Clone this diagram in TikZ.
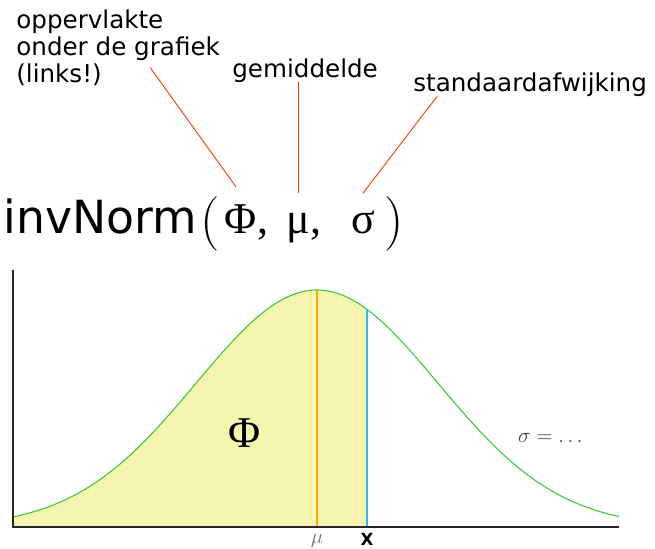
\documentclass[tikz,border=0pt]{standalone}
\usepackage{fontspec}
\setsansfont{DejaVu Sans}
\newfontfamily\greekfont{Liberation Serif}
\usetikzlibrary{positioning,calc}

\definecolor{curvegreen}{HTML}{33CC33}
\definecolor{areafill}{HTML}{F5F5B0}
\definecolor{meanorange}{HTML}{FFAA00}
\definecolor{xblue}{HTML}{33BBEE}
\definecolor{pointred}{HTML}{FF3300}

\begin{document}
\begin{tikzpicture}[
    x=0.02cm, y=-0.02cm,
    caption/.style={font=\sffamily\fontsize{14}{16}\selectfont, inner sep=0pt, anchor=base west},
    formula/.style={font=\greekfont\fontsize{25}{30}\selectfont, inner sep=0pt, anchor=base},
    bracket/.style={font=\rmfamily\fontsize{31}{34}\selectfont, inner sep=0pt, anchor=base west},
    pointer/.style={draw=pointred, line width=0.5pt},
    curve/.style={draw=curvegreen, line width=0.6pt},
    axis/.style={draw=black!85, line width=0.6pt}
]
\useasboundingbox (0,0) rectangle (655,548);

% Labels
\node[caption] (opp1) at (16,28) {oppervlakte};
\node[caption] (opp2) at (16,55) {onder de grafiek};
\node[caption] (opp3) at (16,82) {(links!)};
\node[caption] (gem) at (232,77) {gemiddelde};
\node[caption] (std) at (413,91) {standaardafwijking};

% Formula
\node[font=\sffamily\fontsize{26}{30}\selectfont, inner sep=0pt, anchor=base west] (fn) at (3,233) {invNorm};
\node[bracket] (lpar) at (200,237) {(};
\node[formula] (phi) at (241,233) {Φ};
\node[formula, anchor=base west] (comma1) at (phi.base east) {,};
\node[formula] (mu) at (298,233) {μ};
\node[formula, anchor=base west] (comma2) at (mu.base east) {,};
\node[formula] (sigma) at (363,233) {σ};
\node[bracket] (rpar) at (384,237) {)};

% Pointers
\draw[pointer] ([shift={(32,7)}]opp2.south) -- ([shift={(-5,-17)}]phi.north);
\draw[pointer] (gem.south -| mu.north) -- ([shift={(0,-19)}]mu.north);
\draw[pointer] ([shift={(24,0)}]std.south west) -- ([shift={(0,-17)}]sigma.north);

% Graph
\coordinate (origin) at (13,527);
\coordinate (yend) at (13,270);
\coordinate (xend) at (619,527);
\coordinate (meanfoot) at (317,527);
\coordinate (xfoot) at (367,527);

\fill[areafill] (origin) -- plot[domain=-2.512:0.413, samples=60] ({317+121*(\x)},{527-237*exp(-0.5*(\x)*(\x))}) -- (xfoot) -- cycle;
\draw[curve] plot[domain=-2.512:2.496, samples=120] ({317+121*(\x)},{527-237*exp(-0.5*(\x)*(\x))});
\draw[draw=meanorange, line width=0.8pt] (meanfoot) -- (317,290);
\draw[draw=xblue, line width=0.6pt] (xfoot) -- (367,{527-237*exp(-0.5*0.413*0.413)});
\draw[axis] (yend) -- (origin) -- (xend);

\node[font=\greekfont\fontsize{25}{30}\selectfont] (area) at (245,433) {Φ};
\node[anchor=west, text=black!75, font=\fontsize{12.5}{14}\selectfont] (spread) at (512,438) {$\sigma = \dots$};
\node[below=0.5pt of meanfoot, text=black!55, font=\fontsize{11.5}{13}\selectfont] (meanlbl) {$\mu$};
\node[below=0pt of xfoot, font=\sffamily\bfseries\fontsize{9.5}{11}\selectfont] (xlbl) {X};

\end{tikzpicture}
\end{document}
